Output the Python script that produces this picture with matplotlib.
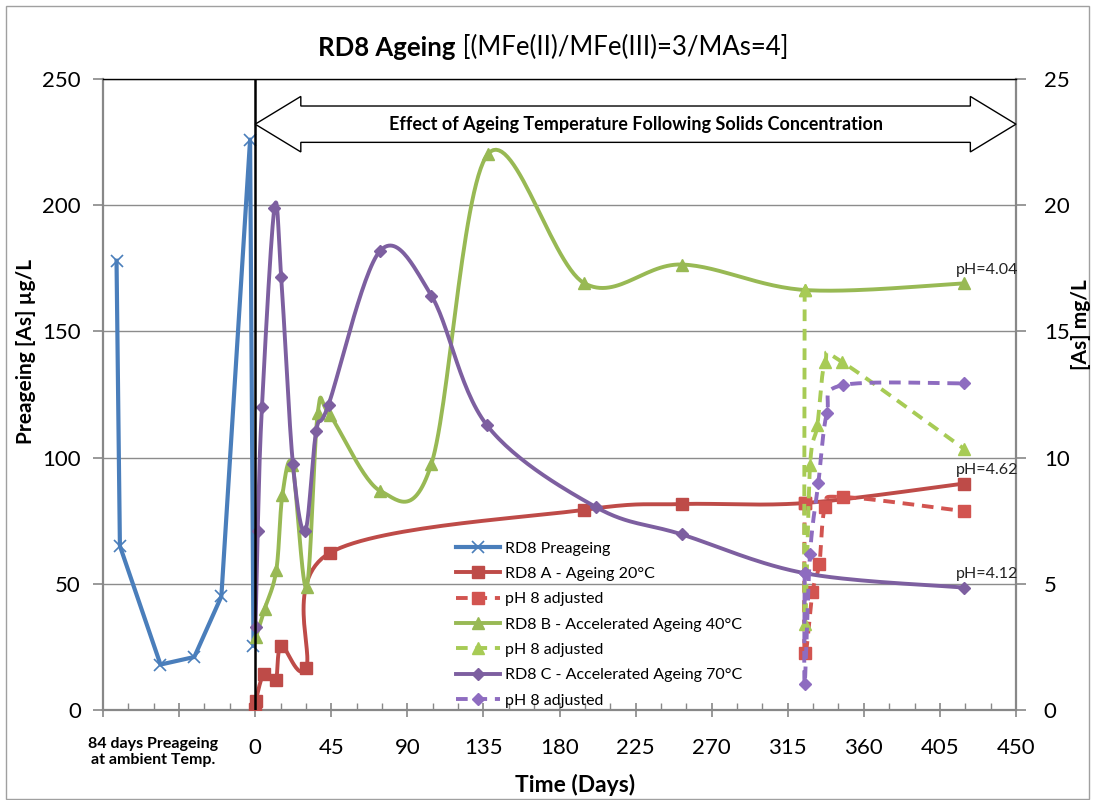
import numpy as np
import matplotlib
matplotlib.use("Agg")
import matplotlib.pyplot as plt
from matplotlib.patches import Polygon, Rectangle
from matplotlib.ticker import MultipleLocator, FixedLocator

plt.rcParams['font.family'] = ['Lato', 'DejaVu Sans']

# Pre-ageing period (days relative to ageing start), As in ug/L
pre_days = [-82, -80, -56, -36, -20, -3, -1]
pre_as = [178, 65, 18, 21, 45, 226, 25.5]

# RD8 A - ageing at 20 C, As in mg/L
a_days = [0, 0.3, 5.2, 12.1, 15.5, 30, 44.3, 194.4, 252.2, 325, 419]
a_as = [0.05, 0.35, 1.43, 1.19, 2.53, 1.66, 6.23, 7.93, 8.16, 8.20, 8.97]
a_adj_days = [325, 325, 329.6, 333.7, 337.1, 347.5, 419]
a_adj_as = [8.20, 2.25, 4.67, 5.80, 8.04, 8.44, 7.88]

# RD8 B - accelerated ageing at 40 C
b_days = [0.5, 5.6, 12.5, 16.1, 22, 30.4, 37, 44, 74, 104.2, 137.7, 194.4, 252.2, 325, 419]
b_as = [2.90, 4.00, 5.54, 8.52, 9.70, 4.87, 11.76, 11.70, 8.68, 9.74, 22.03, 16.92, 17.65, 16.64, 16.90]
b_adj_days = [325, 325, 328.2, 332.5, 337.1, 346.9, 419]
b_adj_as = [16.64, 3.41, 9.70, 11.28, 13.80, 13.80, 10.36]

# RD8 C - accelerated ageing at 70 C
c_days = [0.2, 1.5, 4, 11.4, 15.4, 22.3, 29.6, 36.1, 43.4, 74, 104.2, 137, 201.5, 252.2, 325, 419]
c_as = [3.30, 7.10, 12.0, 19.9, 17.15, 9.76, 7.09, 11.05, 12.1, 18.2, 16.42, 11.29, 8.04, 6.96, 5.42, 4.85]
c_adj_days = [325, 325, 328.2, 333.1, 338.1, 347.5, 419]
c_adj_as = [5.42, 1.03, 6.19, 9.00, 11.75, 12.87, 12.94]

ph_a, ph_b, ph_c = "pH=4.62", "pH=4.04", "pH=4.12"

x_ticks = [-90, -45, 0, 45, 90, 135, 180, 225, 270, 315, 360, 405, 450]
left_ticks = [0, 50, 100, 150, 200, 250]
right_ticks = [0, 5, 10, 15, 20, 25]

BLUE = '#4A7EBB'
RED, RED_ADJ = '#BE4B48', '#D25450'
GREEN, GREEN_ADJ = '#98B954', '#A7CB55'
PURPLE, PURPLE_ADJ = '#7D5FA0', '#8E6CC0'
AXIS_GREY = '#888888'


def smooth(xs, ys, n=30):
    """Bezier smoothing through the points (Catmull-Rom style tangents)."""
    p = np.column_stack([xs, ys]).astype(float)
    ext = np.vstack([p[0], p, p[-1]])
    t = np.linspace(0, 1, n + 1)[1:, None]
    out = [p[:1]]
    for i in range(len(p) - 1):
        p0, p1, p2, p3 = ext[i], ext[i + 1], ext[i + 2], ext[i + 3]
        c1 = p1 + (p2 - p0) / 6
        c2 = p2 - (p3 - p1) / 6
        seg = (1 - t) ** 3 * p1 + 3 * (1 - t) ** 2 * t * c1 + 3 * (1 - t) * t ** 2 * c2 + t ** 3 * p2
        out.append(seg)
    pts = np.vstack(out)
    return pts[:, 0], pts[:, 1], list(range(0, len(pts), n))


W, H = 1094, 800
fig = plt.figure(figsize=(W / 100, H / 100), dpi=100)
fig.patches.append(Rectangle((6 / W, 1 / H), 1083 / W, 793 / H, transform=fig.transFigure,
                             fill=False, edgecolor='#A0A0A0', lw=1.0))

ax = fig.add_axes([103 / W, 1 - 710 / H, (1016 - 103) / W, (710 - 79) / H])
ax2 = ax.twinx()

ax.set_xlim(-90, 450)
ax.set_ylim(0, 250)
ax2.set_ylim(0, 25)

# grid and spines
ax.set_axisbelow(True)
ax.yaxis.grid(True, color='#8C8C8C', lw=1.0)
for a in (ax, ax2):
    for s in a.spines.values():
        s.set_visible(False)
ax.spines['left'].set_visible(True)
ax.spines['bottom'].set_visible(True)
ax.spines['left'].set_color(AXIS_GREY)
ax.spines['bottom'].set_color(AXIS_GREY)
ax.spines['left'].set_linewidth(1.6)
ax.spines['bottom'].set_linewidth(1.6)
ax2.spines['right'].set_visible(True)
ax2.spines['right'].set_color(AXIS_GREY)
ax2.spines['right'].set_linewidth(1.6)
ax2.spines['top'].set_visible(True)
ax2.spines['top'].set_color('black')
ax2.spines['top'].set_linewidth(1.0)

# ticks
ax.xaxis.set_major_locator(FixedLocator(x_ticks))
ax.set_xticklabels([str(v) if v >= 0 else '' for v in x_ticks])
ax.xaxis.set_minor_locator(MultipleLocator(15))
ax.tick_params(axis='x', which='major', direction='inout', length=10, width=1.2,
               color=AXIS_GREY, labelsize=16, pad=15)
ax.tick_params(axis='x', which='minor', direction='in', length=5, width=1.0, color=AXIS_GREY)
ax.yaxis.set_major_locator(FixedLocator(left_ticks))
ax.tick_params(axis='y', direction='out', length=7, width=1.2, color=AXIS_GREY,
               labelsize=16, pad=9)
ax2.yaxis.set_major_locator(FixedLocator(right_ticks))
ax2.tick_params(axis='y', direction='out', length=7, width=1.2, color=AXIS_GREY,
                labelsize=16, pad=13)

# pre-ageing series (ug/L, left axis)
l_pre, = ax.plot(pre_days, pre_as, color=BLUE, lw=3, marker='x', ms=8, mew=1.2,
                 label='RD8 Preageing', zorder=3)

handles = [l_pre]
series = [
    (a_days, a_as, RED, '-', 's', 8, 'RD8 A - Ageing 20°C'),
    (a_adj_days, a_adj_as, RED_ADJ, '--', 's', 8, 'pH 8 adjusted'),
    (b_days, b_as, GREEN, '-', '^', 9, 'RD8 B - Accelerated Ageing 40°C'),
    (b_adj_days, b_adj_as, GREEN_ADJ, '--', '^', 9, 'pH 8 adjusted'),
    (c_days, c_as, PURPLE, '-', 'D', 6.5, 'RD8 C - Accelerated Ageing 70°C'),
    (c_adj_days, c_adj_as, PURPLE_ADJ, '--', 'D', 6.5, 'pH 8 adjusted'),
]
for xs, ys, col, ls, mk, ms, lab in series:
    sx, sy, idx = smooth(xs, ys)
    line, = ax2.plot(sx, sy, color=col, lw=2.8, ls=ls, marker=mk, ms=ms, markevery=idx,
                     mec=col, mfc=col, label=lab, zorder=3,
                     dashes=(3, 2) if ls == '--' else (None, None))
    handles.append(line)

# end-point pH notes
for xs, ys, txt in ((a_days, a_as, ph_a), (b_days, b_as, ph_b), (c_days, c_as, ph_c)):
    ax2.annotate(txt, xy=(xs[-1], ys[-1]), xytext=(17, 10), textcoords='offset points',
                 ha='center', va='center', fontsize=11.5, color='#222222')

# start of ageing
ax2.axvline(0, color='black', lw=1.8, zorder=6)

# double-headed block arrow over the ageing period
cy, bh, hh, hl = 23.21, 0.72, 1.1, 27
x0, x1 = 0, 450
arrow = Polygon([(x0, cy), (x0 + hl, cy + hh), (x0 + hl, cy + bh), (x1 - hl, cy + bh),
                 (x1 - hl, cy + hh), (x1, cy), (x1 - hl, cy - hh), (x1 - hl, cy - bh),
                 (x0 + hl, cy - bh), (x0 + hl, cy - hh)], closed=True,
                facecolor='white', edgecolor='black', lw=1.0, zorder=7, clip_on=False)
ax2.add_patch(arrow)
ax2.text(225, cy, 'Effect of Ageing Temperature Following Solids Concentration',
         ha='center', va='center', fontsize=13, fontweight='bold', zorder=8)

# legend (no fill, lines stay visible behind it)
leg = ax2.legend(handles=handles, loc='upper left', bbox_to_anchor=(454 / W, 1 - 539 / H),
                 bbox_transform=fig.transFigure, frameon=False, fontsize=11.5,
                 handlelength=2.7, handletextpad=0.35, labelspacing=0.7,
                 borderpad=0.15, borderaxespad=0)
leg.set_zorder(9)

# titles and axis labels
t1 = fig.text(318 / W, 1 - 48 / H, 'RD8 Ageing', fontsize=18.5, fontweight='bold',
              ha='left', va='center')
fig.canvas.draw()
ax.annotate(' [(MFe(II)/MFe(III)=3/MAs=4]', xy=(1, 0), xycoords=t1, ha='left',
            va='bottom', fontsize=18.5, annotation_clip=False)
fig.text(26 / W, 1 - 352 / H, 'Preageing [As] µg/L', rotation=90, fontsize=15,
         fontweight='bold', ha='center', va='center')
fig.text(1081 / W, 1 - 325 / H, '[As] mg/L', rotation=90, fontsize=15,
         fontweight='bold', ha='center', va='center')
fig.text(575 / W, 1 - 785 / H, 'Time (Days)', fontsize=16.5, fontweight='bold',
         ha='center', va='center')
fig.text(153 / W, 1 - 752 / H, '84 days Preageing\nat ambient Temp.', fontsize=11.5,
         fontweight='bold', ha='center', va='center', linespacing=1.25)

fig.savefig('out.png', dpi=100)
